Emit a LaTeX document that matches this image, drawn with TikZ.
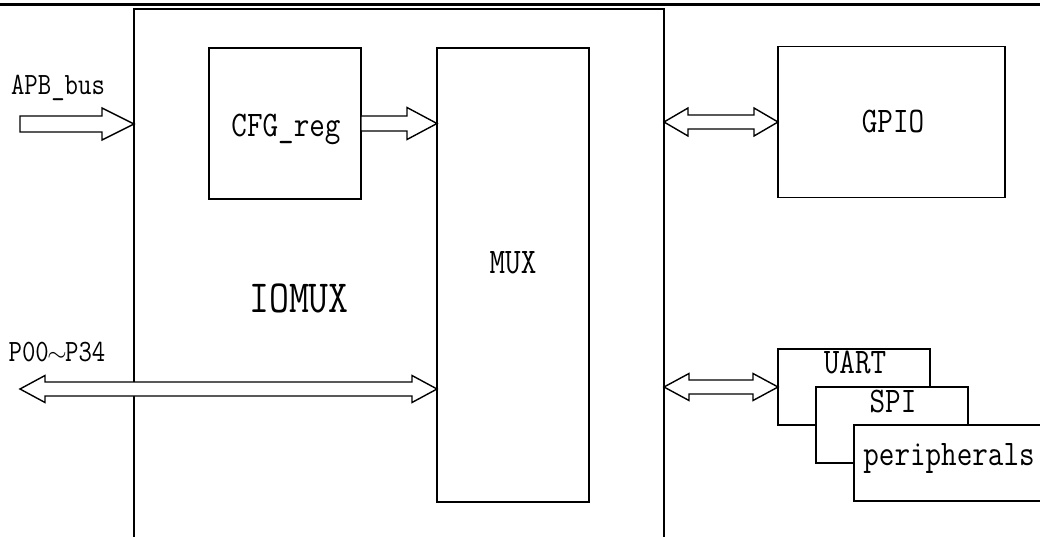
\documentclass[tikz,border=0pt]{standalone}
\usepackage{fontspec}
\setmonofont[FakeStretch=0.84]{Latin Modern Mono}
\usetikzlibrary{calc}

% fat bus arrow: from #1 to tip #2, half shaft #3, half head #4, head length #5
\newcommand\busarrow[5]{%
  \draw[bus] ($(#1)+(0,-#3)$) -- ($(#2)+(-#5,-#3)$) -- ($(#2)+(-#5,-#4)$) -- (#2)
    -- ($(#2)+(-#5,#4)$) -- ($(#2)+(-#5,#3)$) -- ($(#1)+(0,#3)$) -- cycle;}
% same with a head at both ends
\newcommand\busdarrow[5]{%
  \draw[bus] (#1) -- ($(#1)+(#5,-#4)$) -- ($(#1)+(#5,-#3)$) -- ($(#2)+(-#5,-#3)$)
    -- ($(#2)+(-#5,-#4)$) -- (#2) -- ($(#2)+(-#5,#4)$) -- ($(#2)+(-#5,#3)$)
    -- ($(#1)+(#5,#3)$) -- ($(#1)+(#5,#4)$) -- cycle;}

\tikzset{
  blk/.style={draw, fill=white, line width=1.5pt, inner sep=0pt, outer sep=0pt},
  bus/.style={draw, fill=white, line width=1.4pt, line join=miter},
  txt/.style={anchor=base, inner sep=0pt, font=\ttfamily\fontsize{36}{40}\selectfont},
  smalltxt/.style={txt, font=\ttfamily\fontsize{31}{34}\selectfont},
  bigtxt/.style={txt, font=\ttfamily\fontsize{46}{50}\selectfont}
}

\begin{document}
\begin{tikzpicture}[x=1pt, y=-1pt]
\useasboundingbox (0,0) rectangle (1040,537);
\clip (0,0) rectangle (1040,537);
\draw[line width=3.5pt] (0,4.5) -- (1040,4.5);

% blocks
\node[blk, minimum width=530, minimum height=552] (iomux) at (399,285) {};
\node[blk, minimum width=152, minimum height=151] (cfg) at (285,123.5) {};
\node[blk, minimum width=152, minimum height=454] (mux) at (513,275) {};
\node[blk, minimum width=227, minimum height=151] (gpio) at (891.5,122) {};
\node[blk, minimum width=152, minimum height=76] (uart) at (854,387) {};
\node[blk, minimum width=152, minimum height=76] (spi) at (892,425) {};
\node[blk, minimum width=200, minimum height=76] (peri) at (954,463) {};

% texts
\node[bigtxt] (iomuxtxt) at (299,312) {IOMUX};
\node[txt] (cfgtxt) at (286,137) {CFG\_reg};
\node[txt] (muxtxt) at (513,273) {MUX};
\node[txt] (gpiotxt) at (893,133) {GPIO};
\node[txt] (uarttxt) at (855,373) {UART};
\node[txt] (spitxt) at (893,412) {SPI};
\node[txt] (peritxt) at (949,465) {peripherals};
\node[smalltxt] (apbtxt) at (58,95) {APB\_bus};
\node[smalltxt] (pintxt) at (57,361) {P00\kern-0.05em$\sim$\kern-0.05em P34};

% buses
\coordinate (apbin) at (20,124);
\coordinate (apbtip) at (iomux.west |- apbin);
\busarrow{apbin}{apbtip}{8}{16}{32}
\coordinate (cfgtip) at (mux.west |- cfg.east);
\busarrow{cfg.east}{cfgtip}{7.5}{16}{30}
\coordinate (pin) at (20,389);
\coordinate (pintip) at (mux.west |- pin);
\busdarrow{pin}{pintip}{7}{13.5}{25}
\coordinate (gpioend) at (iomux.east |- gpio.west);
\busdarrow{gpioend}{gpio.west}{7}{14}{24}
\coordinate (uartend) at (iomux.east |- uart.west);
\busdarrow{uartend}{uart.west}{7}{13.5}{25}
\end{tikzpicture}
\end{document}
